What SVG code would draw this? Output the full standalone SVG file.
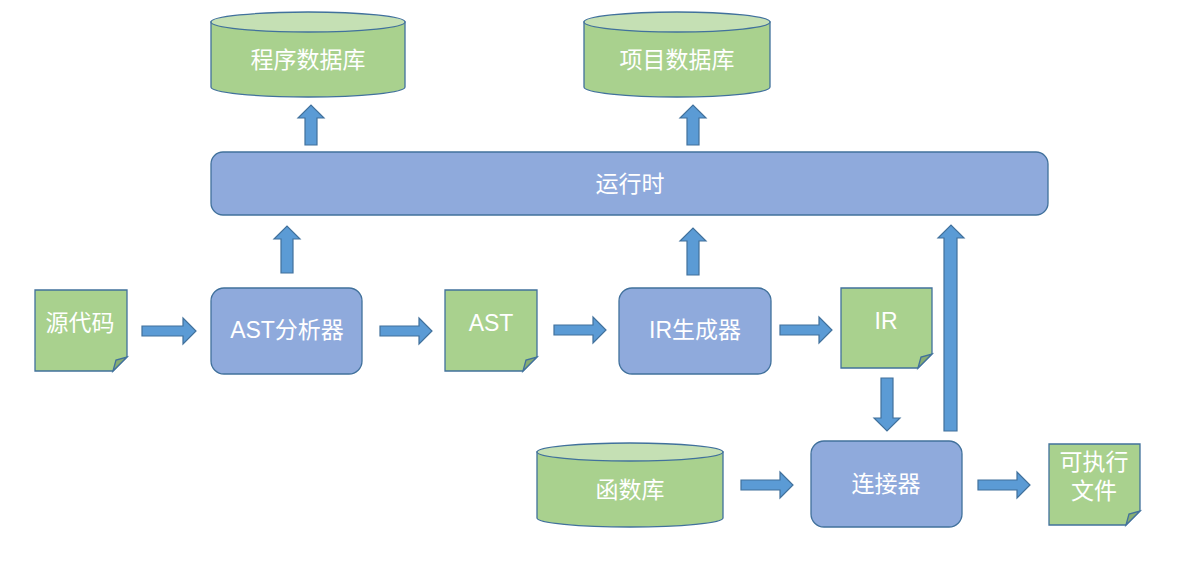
<svg xmlns="http://www.w3.org/2000/svg" width="1196" height="570" viewBox="0 0 1196 570">
<defs>
<style>
.t{font-family:"Liberation Sans","Noto Sans CJK SC",sans-serif;font-size:23px;fill:#fff;text-anchor:middle;dominant-baseline:central}
.g{fill:#A9D18E;stroke:#41719C;stroke-width:1.3}
.gt{fill:#C5E0B4;stroke:#41719C;stroke-width:1.3}
.b{fill:#8FAADC;stroke:#41719C;stroke-width:1.3}
.fold{fill:#88AD72;stroke:#41719C;stroke-width:1.3}
.a{fill:#5B9BD5;stroke:#41719C;stroke-width:1.2}
</style>
</defs>
<rect width="1196" height="570" fill="#fff"/>
<g id="db-program">
<path class="g" d="M211,22 V87 A97,10 0 0 0 405,87 V22 Z"/>
<ellipse class="gt" cx="308" cy="22" rx="97" ry="10"/>
<text class="t" x="308" y="60">程序数据库</text>
</g>
<g id="db-project">
<path class="g" d="M584,22 V87 A93,10 0 0 0 770,87 V22 Z"/>
<ellipse class="gt" cx="677" cy="22" rx="93" ry="10"/>
<text class="t" x="677" y="60">项目数据库</text>
</g>
<g id="runtime">
<rect class="b" x="211" y="152" width="837" height="63" rx="12"/>
<text class="t" x="630" y="184">运行时</text>
</g>
<g id="source">
<path class="g" d="M35,290 H127 V357 L113,371 H35 Z"/>
<path class="fold" d="M113,371 L116,360 L127,357 Z"/>
<text class="t" x="80" y="323">源代码</text>
</g>
<g id="ast-analyzer">
<rect class="b" x="211" y="288" width="151" height="86" rx="13"/>
<text class="t" x="287" y="330">AST分析器</text>
</g>
<g id="ast">
<path class="g" d="M445,290 H537 V357 L523,371 H445 Z"/>
<path class="fold" d="M523,371 L526,360 L537,357 Z"/>
<text class="t" x="491" y="323">AST</text>
</g>
<g id="ir-generator">
<rect class="b" x="619" y="288" width="152" height="86" rx="13"/>
<text class="t" x="695" y="330">IR生成器</text>
</g>
<g id="ir">
<path class="g" d="M841,288 H932 V354 L918,368 H841 Z"/>
<path class="fold" d="M918,368 L921,357 L932,354 Z"/>
<text class="t" x="886" y="321">IR</text>
</g>
<g id="db-function">
<path class="g" d="M537,452 V518 A93,9 0 0 0 723,518 V452 Z"/>
<ellipse class="gt" cx="630" cy="452" rx="93" ry="9"/>
<text class="t" x="630" y="490">函数库</text>
</g>
<g id="linker">
<rect class="b" x="811" y="441" width="151" height="86" rx="13"/>
<text class="t" x="886" y="484">连接器</text>
</g>
<g id="executable">
<path class="g" d="M1049,444 H1140 V511 L1126,525 H1049 Z"/>
<path class="fold" d="M1126,525 L1129,514 L1140,511 Z"/>
<text class="t" x="1094" y="462">可执行</text>
<text class="t" x="1094" y="491">文件</text>
</g>
<g id="connectors">
<path class="a" d="M142,326 H183 V318 L196,331 L183,344 V336 H142 Z"/>
<path class="a" d="M380,326 H419 V318 L432,331 L419,344 V336 H380 Z"/>
<path class="a" d="M554,325 H593 V317 L606,330 L593,343 V335 H554 Z"/>
<path class="a" d="M780,325 H819 V317 L832,330 L819,343 V335 H780 Z"/>
<path class="a" d="M741,480 H780 V472 L793,485 L780,498 V490 H741 Z"/>
<path class="a" d="M978,480 H1017 V472 L1030,485 L1017,498 V490 H978 Z"/>
<path class="a" d="M881,378 H893 V418 H900 L887,431 L874,418 H881 Z"/>
<path class="a" d="M281,273 V239 H274 L287,226 L300,239 H293 V273 Z"/>
<path class="a" d="M687,275 V241 H680 L693,228 L706,241 H699 V275 Z"/>
<path class="a" d="M305,145 V118 H298 L311,105 L324,118 H317 V145 Z"/>
<path class="a" d="M687,145 V118 H680 L693,105 L706,118 H699 V145 Z"/>
<path class="a" d="M944,431 V238 H938 L951,225 L964,238 H957 V431 Z"/>
</g>
</svg>
